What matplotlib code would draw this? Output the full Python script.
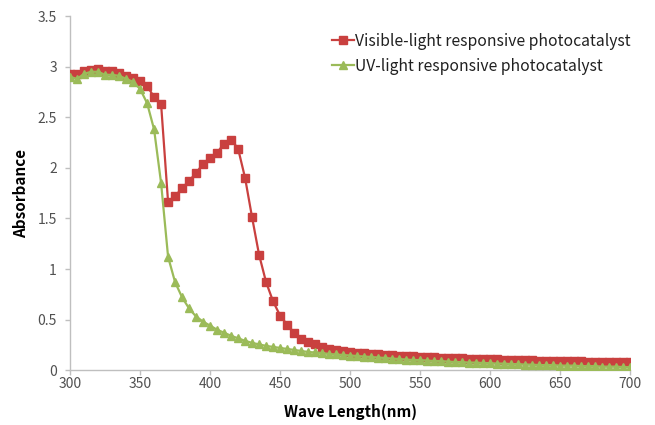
#!/usr/bin/env python3
"""
Absorbance spectra of two photocatalysts (visible vs UV responsive)
"""

import numpy as np
import matplotlib
matplotlib.use("Agg")
import matplotlib.pyplot as plt
from matplotlib.ticker import FuncFormatter

plt.rcParams['font.family'] = ['Noto Sans CJK KR', 'DejaVu Sans']

# wavelength, 5 nm steps 300..700
wavelength = list(range(300, 705, 5))

# visible-light responsive photocatalyst
visible_abs = [
    2.93, 2.93, 2.96, 2.97, 2.98, 2.96, 2.96, 2.94, 2.91, 2.89,   # 300-345
    2.86, 2.81, 2.70, 2.63, 1.66, 1.72, 1.80, 1.87, 1.95, 2.04,   # 350-395
    2.10, 2.15, 2.24, 2.28, 2.19, 1.90, 1.51, 1.14, 0.87, 0.68,   # 400-445
    0.54, 0.45, 0.37, 0.31, 0.28, 0.26, 0.23, 0.21, 0.20, 0.19,   # 450-495
    0.18, 0.17, 0.17, 0.16, 0.16, 0.15, 0.15, 0.14, 0.14, 0.14,   # 500-545
    0.13, 0.13, 0.13, 0.12, 0.12, 0.12, 0.12, 0.11, 0.11, 0.11,   # 550-595
    0.11, 0.11, 0.10, 0.10, 0.10, 0.10, 0.10, 0.09, 0.09, 0.09,   # 600-645
    0.09, 0.09, 0.09, 0.09, 0.08, 0.08, 0.08, 0.08, 0.08, 0.08,   # 650-695
    0.08,                                                          # 700
]

# UV-light responsive photocatalyst
uv_abs = [
    2.90, 2.88, 2.93, 2.95, 2.95, 2.92, 2.92, 2.91, 2.88, 2.85,   # 300-345
    2.78, 2.64, 2.38, 1.85, 1.12, 0.87, 0.72, 0.61, 0.53, 0.48,   # 350-395
    0.44, 0.40, 0.37, 0.34, 0.315, 0.29, 0.27, 0.255, 0.24, 0.23, # 400-445
    0.22, 0.21, 0.20, 0.19, 0.18, 0.175, 0.17, 0.16, 0.155, 0.15, # 450-495
    0.145, 0.14, 0.135, 0.13, 0.125, 0.12, 0.115, 0.11, 0.105, 0.10,  # 500-545
    0.10, 0.095, 0.09, 0.09, 0.085, 0.08, 0.08, 0.075, 0.075, 0.07,   # 550-595
    0.07, 0.065, 0.065, 0.06, 0.06, 0.055, 0.055, 0.05, 0.05, 0.05,   # 600-645
    0.045, 0.045, 0.045, 0.04, 0.04, 0.04, 0.035, 0.035, 0.035, 0.03, # 650-695
    0.03,                                                              # 700
]

series_names = ["Visible-light responsive photocatalyst",
                "UV-light responsive photocatalyst"]

x_ticks = [300, 350, 400, 450, 500, 550, 600, 650, 700]
y_ticks = [0, 0.5, 1, 1.5, 2, 2.5, 3, 3.5]

RED = "#C9403F"
GREEN = "#9BBB59"
AXIS_GRAY = "#BFBFBF"
TEXT_GRAY = "#505050"


def main():
    fig = plt.figure(figsize=(6.55, 4.25), dpi=100)
    ax = fig.add_axes([0.107, 0.129, 0.855, 0.833])

    ax.plot(wavelength, visible_abs, color=RED, lw=1.6, marker='s',
            markersize=5.7, markerfacecolor=RED, markeredgecolor=RED,
            label=series_names[0], zorder=3)
    ax.plot(wavelength, uv_abs, color=GREEN, lw=1.6, marker='^',
            markersize=5.2, markerfacecolor=GREEN, markeredgecolor=GREEN,
            label=series_names[1], zorder=4)

    ax.set_xlim(300, 700)
    ax.set_ylim(0, 3.5)
    ax.set_xticks(x_ticks)
    ax.set_yticks(y_ticks)
    ax.yaxis.set_major_formatter(FuncFormatter(lambda v, p: f"{v:g}"))

    for side in ['top', 'right']:
        ax.spines[side].set_visible(False)
    for side in ['left', 'bottom']:
        ax.spines[side].set_color(AXIS_GRAY)
        ax.spines[side].set_linewidth(1.0)

    ax.tick_params(axis='both', colors=AXIS_GRAY, labelcolor=TEXT_GRAY,
                   labelsize=10, length=3.5, width=1.0, direction='out')
    ax.tick_params(axis='x', pad=1.5)
    ax.tick_params(axis='y', pad=6)

    ax.set_xlabel("Wave Length(nm)", fontsize=11, fontweight='bold',
                  color='black', labelpad=9)
    ax.set_ylabel("Absorbance", fontsize=11, fontweight='bold',
                  color='black', labelpad=6)

    leg = ax.legend(loc='upper right', bbox_to_anchor=(1.0125, 0.971),
                    frameon=False, fontsize=11.3, handlelength=1.4,
                    handletextpad=0.05, labelspacing=0.5, borderaxespad=0.0)
    for txt in leg.get_texts():
        txt.set_color('#202020')

    fig.savefig("out.png", dpi=100)
    plt.close(fig)


if __name__ == "__main__":
    main()
